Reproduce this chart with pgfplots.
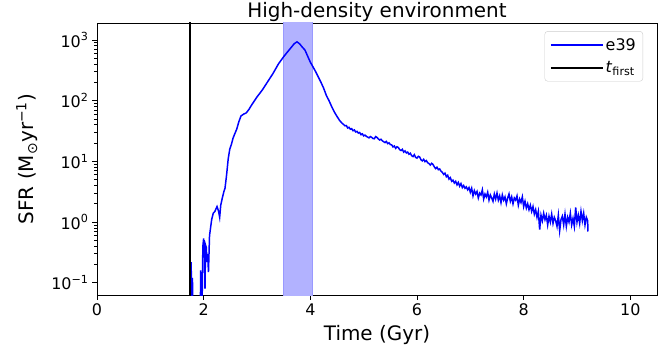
\documentclass[border=0pt]{standalone}
\usepackage{pgfplots}
\pgfplotsset{compat=1.18}
\usepackage{fontspec}
\setmainfont{DejaVu Sans}
\begin{document}
\begin{tikzpicture}
\begin{axis}[
  scale only axis,
  width=560bp, height=272bp,
  xmin=0, xmax=10.5,
  ymode=log, ymin=0.063, ymax=1900,
  xtick={0,2,4,6,8,10},
  ytick={0.1,1,10,100,1000},
  yticklabels={10\textsuperscript{−1},10\textsuperscript{0},10\textsuperscript{1},10\textsuperscript{2},10\textsuperscript{3}},
  /pgf/number format/assume math mode=true,
  xtick pos=bottom, ytick pos=left,
  tick align=outside,
  major tick length=5bp, minor tick length=3bp,
  tick style={black, line width=0.7pt},
  axis line style={line width=0.8pt},
  tick label style={font=\fontsize{16}{19}\selectfont},
  title={High-density environment},
  title style={font=\fontsize{20}{24}\selectfont, at={(axis description cs:0.5,1)}, anchor=base, yshift=0bp},
  xlabel={Time (Gyr)},
  ylabel={SFR (M\textsubscript{⊙}yr\textsuperscript{−1})},
  xlabel style={font=\fontsize{20}{24}\selectfont, at={(axis description cs:0.5,0)}, anchor=base, yshift=-45bp},
  ylabel style={font=\fontsize{20}{24}\selectfont, at={(axis description cs:-0.1125,0.5)}, anchor=base},
  legend style={draw=black!20, rounded corners=3pt, at={(axis description cs:0.975,0.97)}, anchor=north east, row sep=6pt, inner xsep=5pt, inner ysep=5pt},
  legend cell align=left,
  legend image code/.code={\draw[#1] (0bp,0bp) -- (52bp,0bp);},
]
\addplot[forget plot, fill=blue!30, draw=blue!40, line width=0.6pt] coordinates {(3.5,0.01) (4.04,0.01) (4.04,10000) (3.5,10000) (3.5,0.01)};
\addplot[color=blue, line width=1.5pt] coordinates {
(1.755,0.01) (1.765,0.22) (1.775,0.05) (1.79,0.12) (1.80,0.01)
(1.93,0.01) (1.945,0.16) (1.96,0.01) (1.985,0.4) (2.00,0.54) (2.015,0.28) (2.025,0.08)
(2.035,0.42) (2.05,0.38) (2.06,0.22) (2.075,0.3) (2.09,0.15) (2.11,0.6) (2.15,1.1)
(2.18,1.4) (2.21,1.5) (2.25,1.8) (2.28,1.5) (2.30,1.2) (2.32,1.9) (2.35,2.5) (2.38,3.2)
(2.40,3.6) (2.43,6) (2.46,11) (2.49,16) (2.52,19) (2.55,24) (2.58,28) (2.62,34) (2.66,45)
(2.70,56) (2.75,60) (2.80,63) (2.85,72) (2.90,85) (3.00,115) (3.10,150) (3.20,205)
(3.30,280) (3.40,400) (3.50,530) (3.60,680) (3.70,870) (3.75,930) (3.80,860) (3.85,760)
(3.90,680) (3.95,540) (4.00,430) (4.05,360) (4.10,300) (4.15,245) (4.20,200) (4.25,160)
(4.30,122) (4.35,100) (4.40,80) (4.45,65) (4.50,55)
(4.55,47) (4.60,42) (4.625,40.5) (4.65,38.5) (4.675,38.9) (4.70,35.5) (4.725,36.4) (4.75,33.8) (4.775,34.6) (4.80,32) (4.825,32.9) (4.85,30.5) (4.875,31.2) (4.90,29.2)
(4.925,29.9) (4.95,27.5) (4.975,28.4) (5.00,26.3) (5.025,27.1) (5.05,25.8) (5.075,25.1) (5.10,24.4) (5.125,25.6) (5.15,24.9) (5.175,23.8) (5.20,23.6) (5.225,25.6) (5.25,24.8)
(5.275,23.4) (5.30,22.5) (5.325,23.1) (5.35,21.8) (5.375,21.1) (5.40,20.4) (5.425,21.3) (5.45,19.6) (5.475,20.2) (5.50,18.9) (5.525,18.7) (5.55,17.3) (5.575,17.9) (5.60,16.4)
(5.625,17.4) (5.65,16.9) (5.675,15.6) (5.70,15.1) (5.725,15.8) (5.75,14.2) (5.775,14.9) (5.80,13.8) (5.825,14.2) (5.85,13.1) (5.875,13.6) (5.90,12.4) (5.925,12.0) (5.95,12.9)
(5.975,11.6) (6.00,11.3) (6.025,12.1) (6.05,11.8) (6.075,10.6) (6.10,10.2) (6.125,10.8) (6.15,9.9) (6.175,10.3) (6.20,9.5) (6.225,9.2) (6.25,8.7) (6.275,9.3) (6.30,8.9) (6.325,8.1) (6.35,7.6)
(6.375,8.0) (6.40,7.3) (6.425,7.5) (6.45,6.9) (6.475,6.6) (6.50,6.1)
(6.525,6.4) (6.55,5.6) (6.575,5.9) (6.60,5.1) (6.625,5.4) (6.65,4.7) (6.675,4.9) (6.70,4.4)
(6.725,4.7) (6.75,4.1) (6.775,4.5) (6.80,3.9) (6.825,4.3) (6.85,3.7) (6.875,4.0) (6.90,3.6)
(6.925,3.8) (6.95,3.4) (6.975,3.7) (7.00,3.1) (7.025,3.6) (7.05,2.7) (7.075,3.3) (7.10,2.9)
(7.125,3.2) (7.15,2.5) (7.175,3.0) (7.20,2.8) (7.225,3.4) (7.25,2.4) (7.275,2.9) (7.30,2.6)
(7.325,3.1) (7.35,2.3) (7.375,2.8) (7.40,2.5) (7.425,2.2) (7.45,2.9) (7.475,2.4) (7.50,3.0)
(7.525,2.3) (7.55,2.7) (7.575,2.1) (7.60,2.8) (7.625,2.3) (7.65,2.6) (7.675,2.0) (7.70,2.5)
(7.725,2.9) (7.75,2.2) (7.775,2.6) (7.80,2.0) (7.825,2.5) (7.85,2.3) (7.875,2.7) (7.90,1.9)
(7.925,2.4) (7.95,2.1) (7.975,2.6) (8.00,1.8) (8.025,2.2) (8.05,1.7) (8.075,2.0) (8.10,1.6)
(8.125,1.9) (8.15,1.5) (8.175,1.8) (8.20,1.35) (8.225,1.6) (8.25,1.2) (8.275,1.5) (8.30,0.75)
(8.325,1.3) (8.35,1.05) (8.375,1.4) (8.40,1.1) (8.425,1.3) (8.45,0.9) (8.475,1.25) (8.50,1.0)
(8.525,1.35) (8.55,0.95) (8.575,1.2) (8.60,1.05) (8.625,0.85) (8.65,1.3) (8.675,0.72) (8.70,1.1)
(8.725,1.25) (8.75,0.9) (8.775,1.35) (8.80,0.85) (8.825,1.2) (8.85,1.0) (8.875,1.4) (8.90,0.9)
(8.925,1.15) (8.95,0.85) (8.975,1.75) (9.00,1.0) (9.025,1.3) (9.05,0.95) (9.075,1.5) (9.10,1.05)
(9.125,1.4) (9.15,0.9) (9.175,1.2) (9.20,1.05) (9.205,0.7)
};
\addlegendentry{\fontsize{16}{19}\selectfont e39}
\addplot[color=black, line width=2pt] coordinates {(1.75,0.01) (1.75,10000)};
\addlegendentry{\fontsize{16}{19}\selectfont \textit{t}\textsubscript{first}}
\end{axis}
\pgfresetboundingbox
\path ([shift={(-97bp,-55bp)}]current axis.south west) rectangle ([shift={(10bp,23bp)}]current axis.north east);
\end{tikzpicture}
\end{document}
